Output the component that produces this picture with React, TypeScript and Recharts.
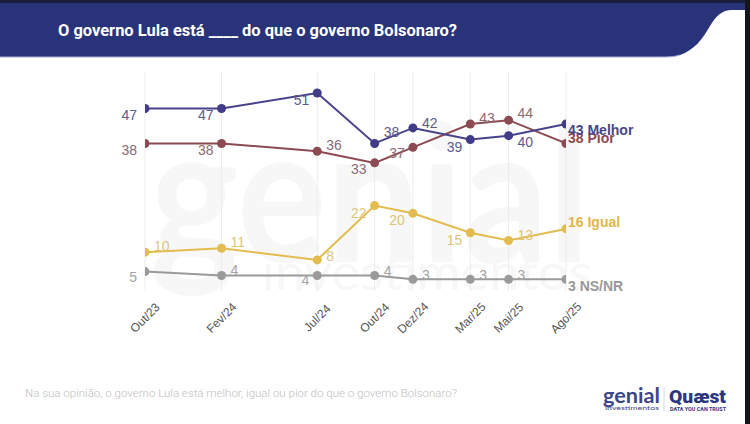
import React from 'react';
import { LineChart, Line, XAxis, YAxis, CartesianGrid, LabelList } from 'recharts';

// Month index since Out/23 (time-proportional x axis)
const months = [0, 4, 9, 12, 14, 17, 19, 22];
const tickLabels = ['Out/23', 'Fev/24', 'Jul/24', 'Out/24', 'Dez/24', 'Mar/25', 'Mai/25', 'Ago/25'];
const melhor = [47, 47, 51, 38, 42, 39, 40, 43];
const pior = [38, 38, 36, 33, 37, 43, 44, 38];
const igual = [10, 11, 8, 22, 20, 15, 13, 16];
const nsnr = [5, 4, 4, 4, 3, 3, 3, 3];
const seriesNames = ['Melhor', 'Pior', 'Igual', 'NS/NR'];

const title = 'O governo Lula está ____ do que o governo Bolsonaro?';
const footnote = 'Na sua opinião, o governo Lula está melhor, igual ou pior do que o governo Bolsonaro?';

// label placement: side (l/r/e=end) and vertical offset
type Place = [string, number];
const melhorPlace: Place[] = [['l', 6], ['l', 6], ['l', 7], ['r', -11], ['r', -5], ['l', 7], ['r', 6], ['e', 6]];
const piorPlace: Place[] = [['l', 7], ['l', 7], ['r', -6], ['l', 6], ['l', 6], ['r', -6], ['r', -7], ['e', -5]];
const igualPlace: Place[] = [['r', -6], ['r', -6], ['r', -4], ['l', 7], ['l', 7], ['l', 7], ['r', -6], ['e', -7]];
const nsPlace: Place[] = [['l', 5], ['r', -5], ['l', 5], ['r', -4], ['r', -4], ['r', -4], ['r', -4], ['e', 7]];

const data = months.map((m, i) => ({
  m,
  melhor: melhor[i],
  pior: pior[i],
  igual: igual[i],
  nsnr: nsnr[i],
}));

const FONT = '"Liberation Sans", Arial, sans-serif';

function makeLabel(place: Place[], color: string, endColor: string, name: string) {
  return (props: any) => {
    const { x, y, value, index } = props;
    if (x == null || y == null) return null;
    const p = place[index] || ['r', -6];
    if (p[0] === 'e') {
      return (
        <text x={x + 2} y={y + p[1]} dominantBaseline="central" fontFamily={FONT} fontSize={14}
          fontWeight={700} fill={endColor}>{`${value} ${name}`}</text>
      );
    }
    const left = p[0] === 'l';
    return (
      <text x={left ? x - 8 : x + 9} y={y + p[1]} textAnchor={left ? 'end' : 'start'} dominantBaseline="central"
        fontFamily={FONT} fontSize={14} fill={color}>{value}</text>
    );
  };
}

const XTick = (props: any) => {
  const { x, y, payload } = props;
  const idx = months.indexOf(payload.value);
  const label = idx >= 0 ? tickLabels[idx] : '';
  return (
    <g transform={`translate(${x},${y + 27}) rotate(-45)`}>
      <text x={0} y={0} textAnchor="middle" dominantBaseline="central" fontFamily={FONT} fontSize={12} fill="#555">
        {label}
      </text>
    </g>
  );
};

export default function App() {
  return (
    <div style={{ position: 'absolute', left: 0, top: 0, width: 750, height: 424, background: '#fff', overflow: 'hidden' }}>
      <svg width={750} height={424} style={{ position: 'absolute', left: 0, top: 0 }}>
        {/* header */}
        <path d="M0,0 H745 V10 H732 C722,10 716,16 710,26 C702,40 694,50 680,55 C674,57 668,57 660,57 H0 Z" fill="#28337a" />
        <rect x={0} y={0} width={750} height={3} fill="#1c1f3a" />
        <path d="M0,57 H660 C668,57 674,57 680,55" fill="none" stroke="#aab0d6" strokeWidth={1} />
        <text x={58} y={36} fontFamily="Roboto, sans-serif" fontWeight={700} fontSize={16} fill="#ffffff"
          textLength={399} lengthAdjust="spacingAndGlyphs">{title}</text>
        {/* watermark */}
        <text x={150} y={262} fontFamily="Lato, sans-serif" fontWeight={700} fontSize={190} fill="#f7f7f7"
          textLength={440} lengthAdjust="spacingAndGlyphs">genial</text>
        <text x={262} y={290} fontFamily="Lato, sans-serif" fontWeight={400} fontSize={50} fill="#f7f7f7"
          textLength={330} lengthAdjust="spacingAndGlyphs">investimentos</text>
        {/* footnote */}
        <text x={25} y={397} fontFamily="Roboto, sans-serif" fontWeight={300} fontSize={11.5} fill="#c0c0c0"
          textLength={432} lengthAdjust="spacingAndGlyphs">{footnote}</text>
        {/* logos */}
        <text x={603} y={403} fontFamily="Lato, sans-serif" fontWeight={700} fontSize={20} fill="#3d4688"
          textLength={57} lengthAdjust="spacingAndGlyphs">genial</text>
        <text x={605} y={410} fontFamily="Lato, sans-serif" fontSize={5.5} fill="#3d4688"
          textLength={54} lengthAdjust="spacingAndGlyphs">investimentos</text>
        <line x1={664} y1={387} x2={664} y2={411} stroke="#d0d0d8" strokeWidth={0.8} />
        <text x={669} y={403} fontFamily="Roboto, sans-serif" fontWeight={900} fontSize={19} fill="#2c3680"
          textLength={57} lengthAdjust="spacingAndGlyphs">Quæst</text>
        <text x={670} y={411} fontFamily="Roboto, sans-serif" fontWeight={700} fontSize={4.5} fill="#2c3680"
          textLength={56} lengthAdjust="spacingAndGlyphs">DATA YOU CAN TRUST</text>
        {/* right border */}
        <rect x={745} y={0} width={5} height={424} fill="#15161c" />
      </svg>
      <div style={{ position: 'absolute', left: 0, top: 0 }}>
        <LineChart width={750} height={424} data={data} margin={{ top: 72, right: 184, bottom: 103, left: 145 }}>
          <CartesianGrid vertical={true} horizontal={false} stroke="#ececec" />
          <XAxis dataKey="m" type="number" domain={[0, 22]} ticks={months} interval={0} axisLine={false}
            tickLine={false} tickSize={0} tickMargin={0} height={30} tick={<XTick />} allowDataOverflow />
          <YAxis hide type="number" domain={[0, 56.4]} />
          <Line dataKey="nsnr" name={seriesNames[3]} stroke="#9a9a9a" strokeWidth={2}
            dot={{ r: 4.5, fill: '#9a9a9a', stroke: '#9a9a9a', strokeWidth: 0 }} isAnimationActive={false}>
            <LabelList dataKey="nsnr" content={makeLabel(nsPlace, '#a3a3a3', '#999999', seriesNames[3])} />
          </Line>
          <Line dataKey="igual" name={seriesNames[2]} stroke="#e3bc4f" strokeWidth={2}
            dot={{ r: 4.5, fill: '#e3bc4f', stroke: '#e3bc4f', strokeWidth: 0 }} isAnimationActive={false}>
            <LabelList dataKey="igual" content={makeLabel(igualPlace, '#dcc676', '#e0b84a', seriesNames[2])} />
          </Line>
          <Line dataKey="pior" name={seriesNames[1]} stroke="#8c4a52" strokeWidth={2}
            dot={{ r: 4.5, fill: '#8c4a52', stroke: '#8c4a52', strokeWidth: 0 }} isAnimationActive={false}>
            <LabelList dataKey="pior" content={makeLabel(piorPlace, '#8c6a70', '#8c4a52', seriesNames[1])} />
          </Line>
          <Line dataKey="melhor" name={seriesNames[0]} stroke="#47428a" strokeWidth={2}
            dot={{ r: 4.5, fill: '#403c88', stroke: '#403c88', strokeWidth: 0 }} isAnimationActive={false}>
            <LabelList dataKey="melhor" content={makeLabel(melhorPlace, '#5c5b86', '#4a4785', seriesNames[0])} />
          </Line>
        </LineChart>
      </div>
    </div>
  );
}
